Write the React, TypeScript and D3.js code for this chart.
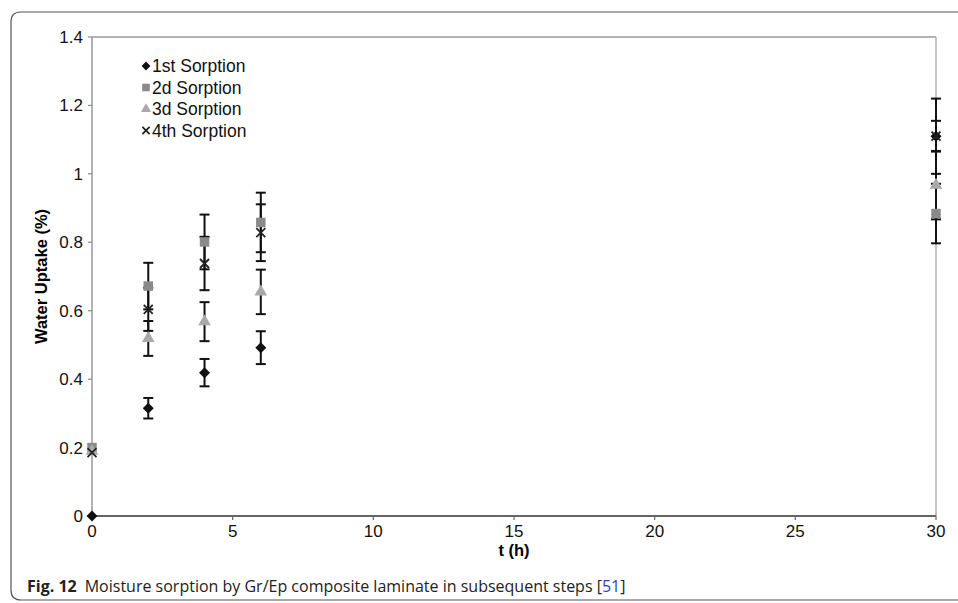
import React from "react";
import * as d3 from "d3";

const times = [0, 2, 4, 6, 30];
const sorption1 = [0, 0.315, 0.419, 0.492, 1.11];
const error1 = [0, 0.03, 0.04, 0.048, 0.045];
const sorption2 = [0.2, 0.672, 0.801, 0.858, 0.884];
const error2 = [0, 0.068, 0.08, 0.087, 0.087];
const sorption3 = [0.19, 0.519, 0.568, 0.655, 0.967];
const error3 = [0, 0.051, 0.057, 0.065, 0.1];
const sorption4 = [0.185, 0.604, 0.738, 0.828, 1.11];
const error4 = [0, 0.063, 0.078, 0.083, 0.11];
const seriesNames = ["1st Sorption", "2d Sorption", "3d Sorption", "4th Sorption"];
const xTicks = [0, 5, 10, 15, 20, 25, 30];
const yTicks = [0, 0.2, 0.4, 0.6, 0.8, 1, 1.2, 1.4];

const W = 958;
const H = 603;
const left = 92;
const right = 936;
const top = 37;
const bottom = 516;

const x = d3.scaleLinear().domain([0, 30]).range([left, right]);
const y = d3.scaleLinear().domain([0, 1.4]).range([bottom, top]);

const series = [
  { name: seriesNames[0], vals: sorption1, errs: error1, shape: "diamond", color: "#111" },
  { name: seriesNames[1], vals: sorption2, errs: error2, shape: "square", color: "#8a8a8a" },
  { name: seriesNames[2], vals: sorption3, errs: error3, shape: "triangle", color: "#a9a9a9" },
  { name: seriesNames[3], vals: sorption4, errs: error4, shape: "x", color: "#222" },
];

const sym = {
  square: d3.symbol().type(d3.symbolSquare).size(90),
  triangle: d3.symbol().type(d3.symbolTriangle).size(70),
};

function Marker({ shape, color, cx, cy, s = 1 }: any) {
  if (shape === "x") {
    const r = 4.5 * s;
    return (
      <g transform={`translate(${cx},${cy})`} stroke={color} strokeWidth={1.8}>
        <line x1={-r} y1={-r} x2={r} y2={r} />
        <line x1={-r} y1={r} x2={r} y2={-r} />
      </g>
    );
  }
  if (shape === "diamond") {
    const r = 5.5;
    return (
      <path
        d={`M0,${-r}L${r},0L0,${r}L${-r},0Z`}
        transform={`translate(${cx},${cy}) scale(${s})`}
        fill={color}
      />
    );
  }
  return (
    <path
      d={(sym as any)[shape]()}
      transform={`translate(${cx},${cy}) scale(${s})`}
      fill={color}
    />
  );
}

export default function App() {
  const font = "'Liberation Sans', Arial, sans-serif";
  return (
    <svg
      width={W}
      height={H}
      style={{ position: "absolute", left: 0, top: 0, background: "#fff" }}
    >
      <path
        d={`M ${W + 5} 12 L 21 12 Q 11 12 11 22 L 11 590 Q 11 600 21 600 L ${W + 5} 600`}
        fill="none"
        stroke="#555"
        strokeWidth={1.2}
      />
      <line x1={left} y1={top} x2={right} y2={top} stroke="#9a9a9a" strokeWidth={1.5} />
      <line x1={right} y1={top} x2={right} y2={bottom} stroke="#b0b0b0" strokeWidth={1.5} />
      <line x1={left} y1={top} x2={left} y2={bottom} stroke="#999" strokeWidth={1.5} />
      <line x1={left} y1={bottom} x2={right} y2={bottom} stroke="#666" strokeWidth={2} />
      {yTicks.map((t) => (
        <g key={"y" + t}>
          <line x1={left - 4} x2={left} y1={y(t)} y2={y(t)} stroke="#888" strokeWidth={1.2} />
          <text
            x={left - 9}
            y={y(t)}
            dy="0.35em"
            textAnchor="end"
            fontFamily={font}
            fontSize={17}
            fill="#111"
          >
            {String(t)}
          </text>
        </g>
      ))}
      {xTicks.map((t) => (
        <g key={"x" + t}>
          <line x1={x(t)} x2={x(t)} y1={bottom} y2={bottom + 4} stroke="#666" strokeWidth={1.2} />
          <text
            x={x(t)}
            y={bottom + 21}
            textAnchor="middle"
            fontFamily={font}
            fontSize={17}
            fill="#111"
          >
            {String(t)}
          </text>
        </g>
      ))}
      <text
        x={(left + right) / 2}
        y={556}
        textAnchor="middle"
        fontFamily={font}
        fontSize={16.5}
        fontWeight="bold"
      >
        t (h)
      </text>
      <text
        transform={`translate(47,${(top + bottom) / 2}) rotate(-90)`}
        textAnchor="middle"
        fontFamily={font}
        fontSize={16.5}
        fontWeight="bold"
      >
        Water Uptake (%)
      </text>
      {series.map((s, si) =>
        s.vals.map((v, i) =>
          s.errs[i] > 0 ? (
            <g key={`e${si}-${i}`} stroke="#111" strokeWidth={2}>
              <line x1={x(times[i])} x2={x(times[i])} y1={y(v - s.errs[i])} y2={y(v + s.errs[i])} />
              <line x1={x(times[i]) - 5} x2={x(times[i]) + 5} y1={y(v - s.errs[i])} y2={y(v - s.errs[i])} />
              <line x1={x(times[i]) - 5} x2={x(times[i]) + 5} y1={y(v + s.errs[i])} y2={y(v + s.errs[i])} />
            </g>
          ) : null
        )
      )}
      {series.map((s, si) =>
        s.vals.map((v, i) => (
          <Marker key={`m${si}-${i}`} shape={s.shape} color={s.color} cx={x(times[i])} cy={y(v)} />
        ))
      )}
      {series.map((s, si) => (
        <g key={"l" + si}>
          <Marker shape={s.shape} color={s.color} cx={146} cy={66 + si * 21.5} s={0.8} />
          <text x={152} y={66 + si * 21.5} dy="0.35em" fontFamily={font} fontSize={17.5} fill="#111">
            {s.name}
          </text>
        </g>
      ))}
      <text x={27} y={592} fontFamily="'Open Sans', 'Noto Sans', sans-serif" fontSize={16} fill="#222">
        <tspan fontWeight="bold">Fig. 12</tspan>
        <tspan dx={8}>Moisture sorption by Gr/Ep composite laminate in subsequent steps [</tspan>
        <tspan fill="#2b3fd6">51</tspan>
        <tspan>]</tspan>
      </text>
    </svg>
  );
}
